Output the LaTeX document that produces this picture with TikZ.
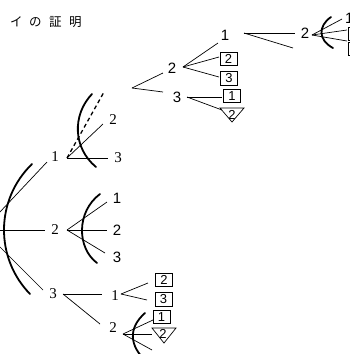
\documentclass[tikz,border=0pt]{standalone}
\usepackage{fontspec}
\newfontfamily\jpfont{Noto Sans CJK JP}
\newfontfamily\sfdig{Liberation Sans}
\newfontfamily\rmdig{Liberation Serif}
\begin{document}
\begin{tikzpicture}[x=1pt,y=-1pt,
  lbl/.style={font=\rmdig\fontsize{15}{15}\selectfont, inner sep=1pt},
  slbl/.style={font=\sfdig\fontsize{15}{15}\selectfont, inner sep=1pt},
  boxed/.style={draw, line width=0.6pt, font=\sfdig\fontsize{13}{13}\selectfont,
    inner sep=0pt, minimum width=17pt, minimum height=13.5pt},
  edge/.style={line width=0.7pt},
  dashedge/.style={line width=1.3pt, dashed, dash pattern=on 4pt off 3pt},
  bow/.style={line width=1.8pt, line cap=round}]
\useasboundingbox (0,0) rectangle (350,354);
\clip (0,0) rectangle (350,354);

% title
\node[anchor=west, inner sep=0pt, font=\jpfont\fontsize{12.5}{13}\selectfont] (title) at (10,22)
  {イ\hspace{6.5pt}の\hspace{7.5pt}証\hspace{7.5pt}明};

% ---------- root level ----------
\coordinate (root) at (-17,230);
\node[lbl] (a1) at (55,157) {1};
\node[lbl] (a2) at (55,230) {2};
\node[lbl] (a3) at (53,294) {3};
\coordinate (a1e) at (47,162);
\coordinate (a2e) at (45,230);
\coordinate (a3e) at (43,290);
\draw[edge] (root) -- (a1e);
\draw[edge] (root) -- (a2e);
\draw[edge] (root) -- (a3e);
\draw[bow] (32,164) .. controls (-5,200) and (-5,258) .. (30,294);

% ---------- branch 1 ----------
\coordinate (b1) at (67,158);
\coordinate (b1d) at (104,92);
\node[lbl] (a12) at (113,120) {2};
\node[lbl] (a13) at (118,158) {3};
\coordinate (a12e) at (103,124);
\coordinate (a13e) at (108,158);
\draw[dashedge] (b1) -- (b1d);
\draw[edge] (b1) -- (a12e);
\draw[edge] (b1) -- (a13e);
\draw[bow] (92,94) .. controls (72,115) and (73,148) .. (96,167);

% ---------- branch 2 ----------
\coordinate (b2) at (67,230);
\node[slbl] (a21) at (117,198) {1};
\node[slbl] (a22) at (117,230) {2};
\node[slbl] (a23) at (117,257) {3};
\coordinate (a21e) at (107,202);
\coordinate (a22e) at (107,230);
\coordinate (a23e) at (105,253);
\draw[edge] (b2) -- (a21e);
\draw[edge] (b2) -- (a22e);
\draw[edge] (b2) -- (a23e);
\draw[bow] (100,194) .. controls (76,212) and (77,248) .. (97,263);

% ---------- branch 3 ----------
\coordinate (b3) at (63,294);
\node[lbl] (a31) at (115,296) {1};
\node[lbl] (a32) at (113,328) {2};
\coordinate (a31e) at (102,294);
\coordinate (a32e) at (100,324);
\draw[edge] (b3) -- (a31e);
\draw[edge] (b3) -- (a32e);

\coordinate (b31) at (121,294);
\node[boxed] (c2) at (164,280) {2};
\node[boxed] (c3) at (163.5,299.5) {3};
\coordinate (c2e) at (148,283);
\coordinate (c3e) at (147,300);
\draw[edge] (b31) -- (c2e);
\draw[edge] (b31) -- (c3e);

\coordinate (b32) at (123,334);
\node[boxed] (d1) at (161.5,317) {1};
\node[slbl, font=\sfdig\fontsize{13}{13}\selectfont] (d2) at (163,334) {2};
\draw[edge] (152,328) -- (176,328) -- (164,343) -- cycle;
\coordinate (d1e) at (153,320);
\coordinate (d2e) at (152,334);
\coordinate (d3e) at (152,350);
\draw[edge] (b32) -- (d1e);
\draw[edge] (b32) -- (d2e);
\draw[edge] (b32) -- (d3e);
\draw[bow] (145,313) .. controls (128,328) and (129,346) .. (147,362);

% ---------- upper cluster ----------
\coordinate (u0) at (132,88);
\node[slbl] (u2) at (172,68) {2};
\node[slbl] (u3) at (177,97) {3};
\coordinate (u2e) at (163,73);
\coordinate (u3e) at (163,92);
\draw[edge] (u0) -- (u2e);
\draw[edge] (u0) -- (u3e);

\coordinate (bu2) at (183,67);
\node[slbl] (v1) at (225,35) {1};
\node[boxed] (v2) at (228.5,59) {2};
\node[boxed] (v3) at (229,78.5) {3};
\coordinate (v1e) at (218,43);
\coordinate (v2e) at (219,57);
\coordinate (v3e) at (219,77);
\draw[edge] (bu2) -- (v1e);
\draw[edge] (bu2) -- (v2e);
\draw[edge] (bu2) -- (v3e);

\coordinate (bu3) at (187,97);
\node[boxed] (w1) at (232,96) {1};
\node[slbl, font=\sfdig\fontsize{13}{13}\selectfont] (w2) at (232,115) {2};
\draw[edge] (220,108) -- (244,108) -- (232,122) -- cycle;
\coordinate (w1e) at (222,97);
\coordinate (w2e) at (222,110);
\draw[edge] (bu3) -- (w1e);
\draw[edge] (bu3) -- (w2e);

\coordinate (bv1) at (244,33);
\node[slbl] (x2) at (305,33) {2};
\coordinate (x2e) at (295,33);
\coordinate (xle) at (293,48);
\draw[edge] (bv1) -- (x2e);
\draw[edge] (bv1) -- (xle);

% rightmost level, running past the page edge
\coordinate (bx2) at (312,35);
\node[slbl, anchor=west] (y1) at (344,18) {1};
\node[boxed, anchor=west] (y2) at (348,34) {2};
\node[boxed, anchor=west] (y3) at (348,49) {3};
\coordinate (y1e) at (342,19);
\coordinate (y2e) at (347,30);
\coordinate (y3e) at (347,41);
\draw[edge] (bx2) -- (y1e);
\draw[edge] (bx2) -- (y2e);
\draw[edge] (bx2) -- (y3e);
\draw[bow] (331,17) .. controls (318,26) and (318,40) .. (333,48);
\end{tikzpicture}
\end{document}
